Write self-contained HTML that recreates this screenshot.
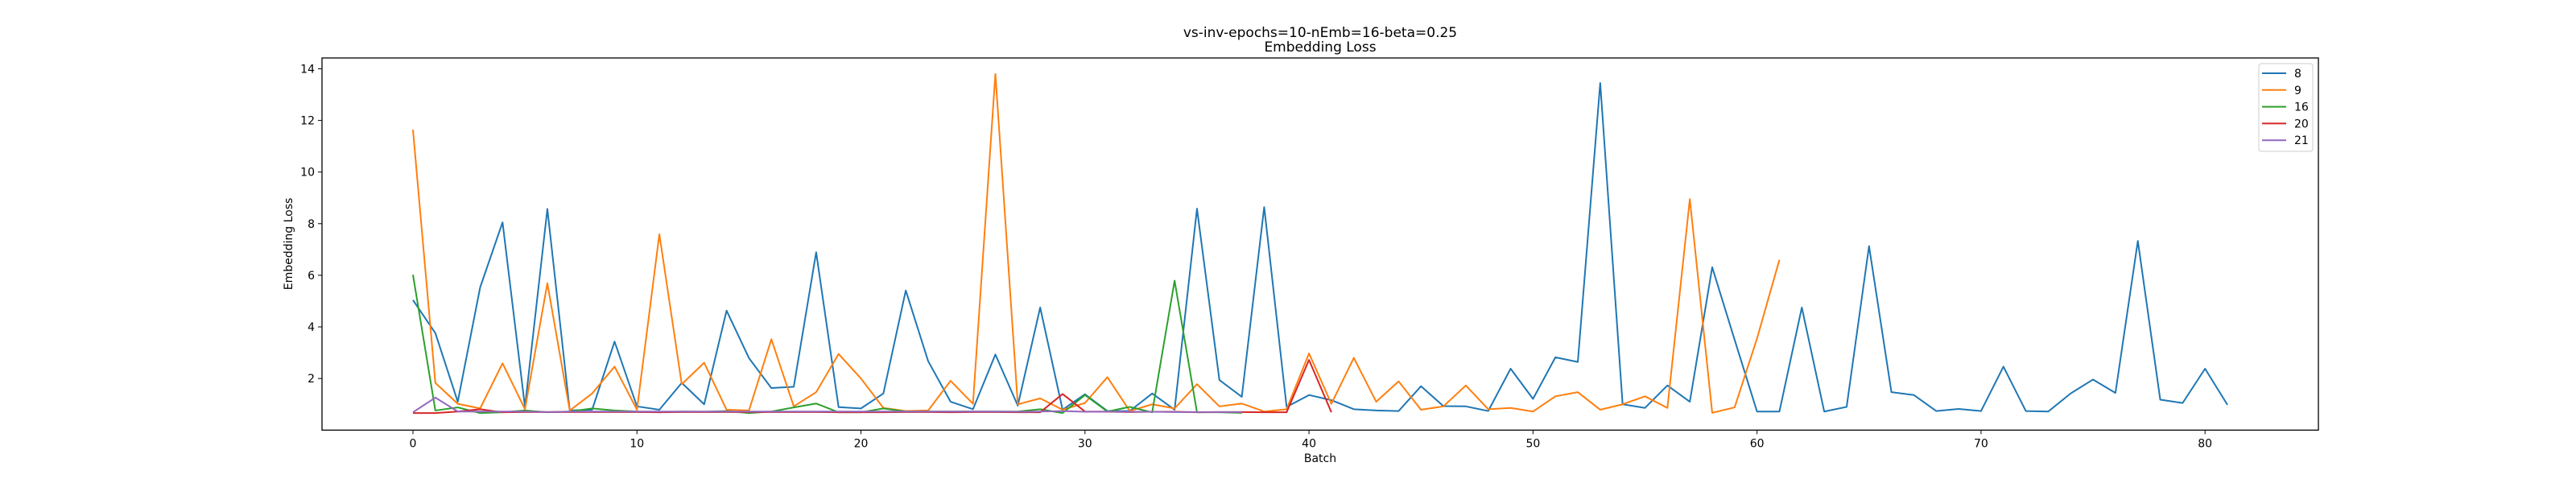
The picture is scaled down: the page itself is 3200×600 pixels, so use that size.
<!DOCTYPE html>
<html><head><meta charset="utf-8"><style>
html,body{margin:0;padding:0;background:#fff;}
svg{display:block;font-family:"DejaVu Sans","Liberation Sans",sans-serif;}
</style></head><body>
<svg id="chart" width="3200" height="600" viewBox="0 0 3200 600" xmlns="http://www.w3.org/2000/svg">
<rect width="3200" height="600" fill="#fff"/>
<text x="1640" y="46" font-size="17" text-anchor="middle">vs-inv-epochs=10-nEmb=16-beta=0.25</text>
<text x="1640" y="64" font-size="17" text-anchor="middle">Embedding Loss</text>
<g id="plot"></g>
<text x="1640" y="574" font-size="14" text-anchor="middle">Batch</text>
<text x="0" y="0" font-size="14" text-anchor="middle" transform="translate(363,303) rotate(-90)">Embedding Loss</text>
</svg>
<script>
const xTicks = [0,10,20,30,40,50,60,70,80];
const yTicks = [2,4,6,8,10,12,14];
const seriesNames = ["8","9","16","20","21"];
const seriesColors = ["#1f77b4","#ff7f0e","#2ca02c","#d62728","#9467bd"];
const s8 = [5.04,3.76,1.10,5.53,8.05,0.90,8.57,0.76,0.79,3.43,0.92,0.79,1.83,1.0,4.63,2.79,1.63,1.68,6.89,0.89,0.84,1.42,5.41,2.67,1.10,0.81,2.93,0.95,4.75,0.79,1.39,0.74,0.74,1.42,0.79,8.58,1.94,1.29,8.64,0.90,1.36,1.16,0.81,0.76,0.74,1.70,0.93,0.92,0.74,2.38,1.21,2.82,2.64,13.45,1.0,0.86,1.73,1.10,6.31,3.5,0.72,0.72,4.75,0.72,0.90,7.13,1.47,1.36,0.74,0.82,0.74,2.46,0.74,0.72,1.42,1.96,1.44,7.33,1.18,1.05,2.38,0.98];
const s9 = [11.64,1.83,1.02,0.84,2.59,0.81,5.69,0.76,1.42,2.46,0.79,7.59,1.78,2.61,0.79,0.76,3.52,0.92,1.47,2.95,2.0,0.86,0.74,0.76,1.91,1.02,13.8,1.0,1.23,0.79,1.05,2.05,0.74,1.0,0.84,1.78,0.92,1.03,0.72,0.81,2.97,1.02,2.80,1.10,1.89,0.79,0.92,1.73,0.81,0.86,0.72,1.31,1.47,0.79,1.0,1.31,0.86,8.95,0.67,0.88,3.55,6.60];
const s16 = [6.02,0.76,0.88,0.66,0.69,0.76,0.69,0.72,0.84,0.76,0.72,0.69,0.72,0.71,0.74,0.66,0.72,0.88,1.03,0.69,0.69,0.84,0.72,0.72,0.72,0.72,0.72,0.72,0.81,0.66,1.36,0.72,0.90,0.69,5.79,0.69,0.69,0.67];
const s20 = [0.66,0.66,0.72,0.81,0.69,0.70,0.70,0.70,0.70,0.70,0.70,0.69,0.70,0.70,0.70,0.70,0.70,0.70,0.70,0.69,0.69,0.69,0.70,0.70,0.69,0.70,0.70,0.69,0.69,1.40,0.72,0.71,0.70,0.71,0.71,0.69,0.70,0.70,0.69,0.69,2.72,0.69];
const s21 = [0.69,1.26,0.72,0.72,0.72,0.72,0.70,0.72,0.72,0.72,0.72,0.72,0.72,0.72,0.72,0.72,0.72,0.72,0.72,0.72,0.72,0.72,0.72,0.72,0.72,0.72,0.72,0.71,0.72,0.74,0.71,0.72,0.71,0.71,0.70,0.70,0.70,0.70];
const allSeries = [s8,s9,s16,s20,s21];

const NS = "http://www.w3.org/2000/svg";
const L = 400, R = 2880, T = 72, B = 534.3;
const xMin = -4.06, xMax = 85.06, yMin = 0.0, yMax = 14.42;
function xs(v){ return L + (v - xMin) / (xMax - xMin) * (R - L); }
function ys(v){ return B - (v - yMin) / (yMax - yMin) * (B - T); }
const plot = document.getElementById('plot');
function mk(tag, attrs){ const e = document.createElementNS(NS, tag); for (const k in attrs) e.setAttribute(k, attrs[k]); return e; }

allSeries.forEach((arr, si) => {
  const pts = arr.map((v, i) => xs(i).toFixed(2) + ',' + ys(v).toFixed(2)).join(' ');
  const pl = mk('polyline', {points: pts, fill: 'none', stroke: seriesColors[si], 'stroke-width': 2, 'stroke-linejoin': 'round'});
  
  
  plot.appendChild(pl);
});

const frame = mk('rect', {x: L, y: T, width: R - L, height: B - T, fill: 'none', stroke: '#000', 'stroke-width': 1.3});


plot.appendChild(frame);

xTicks.forEach(t => {
  const x = xs(t);
  const tk = mk('line', {x1: x, x2: x, y1: B, y2: B + 5, stroke: '#000', 'stroke-width': 1});
  
  
  plot.appendChild(tk);
  const lb = mk('text', {x: x, y: B + 21, 'font-size': 14, 'text-anchor': 'middle'});
  lb.textContent = t;
  
  
  plot.appendChild(lb);
});
yTicks.forEach(t => {
  const y = ys(t);
  const tk = mk('line', {x1: L - 5, x2: L, y1: y, y2: y, stroke: '#000', 'stroke-width': 1});
  
  
  plot.appendChild(tk);
  const lb = mk('text', {x: L - 9, y: y + 5, 'font-size': 14, 'text-anchor': 'end'});
  lb.textContent = t;
  
  
  plot.appendChild(lb);
});

const lg = mk('rect', {x: 2806, y: 79, width: 67, height: 109, rx: 3, fill: '#fff', stroke: '#ccc', 'stroke-width': 1});


plot.appendChild(lg);
seriesNames.forEach((n, i) => {
  const y = 91 + i * 20.8;
  const ln = mk('line', {x1: 2810, x2: 2840, y1: y, y2: y, stroke: seriesColors[i], 'stroke-width': 2});
  
  
  plot.appendChild(ln);
  const tx = mk('text', {x: 2850, y: y + 5, 'font-size': 14});
  tx.textContent = n;
  
  
  plot.appendChild(tx);
});
</script>
</body></html>
